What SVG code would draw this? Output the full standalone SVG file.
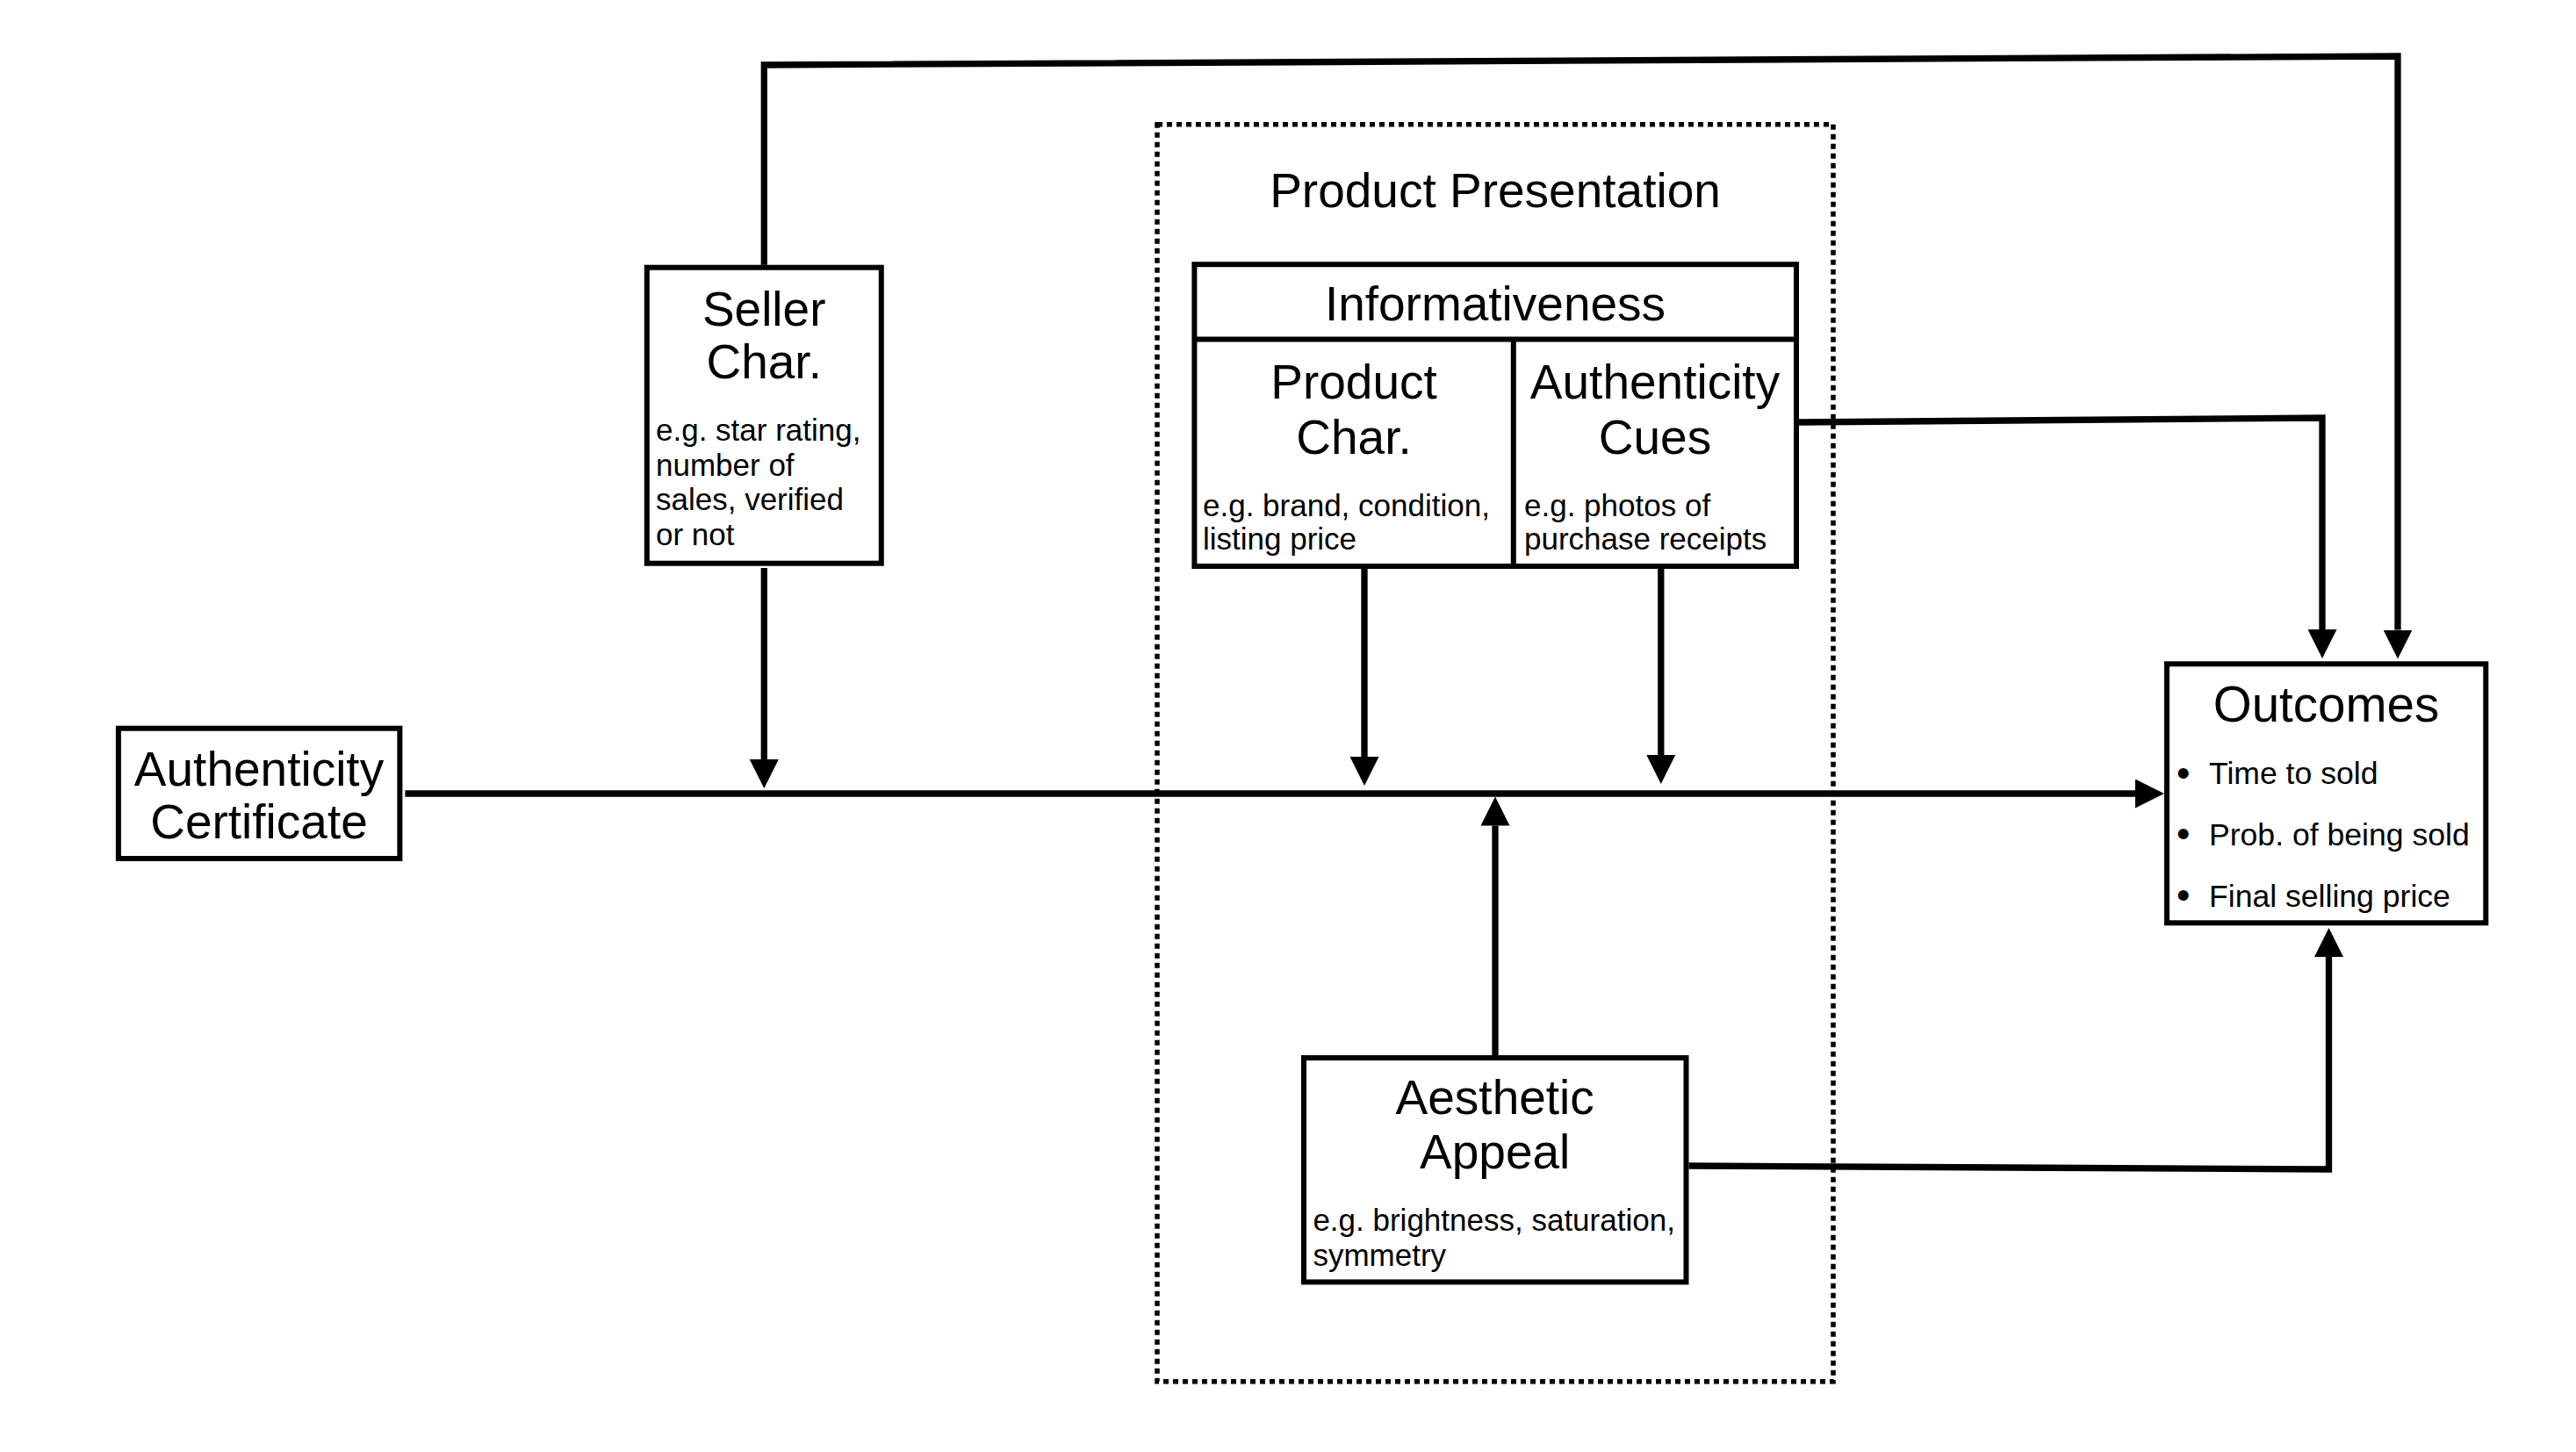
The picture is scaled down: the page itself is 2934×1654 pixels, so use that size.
<svg xmlns="http://www.w3.org/2000/svg" width="2934" height="1654" viewBox="0 0 2934 1654">
<style>
.box{fill:#fff;stroke:#000;stroke-width:6}
.div{fill:none;stroke:#000;stroke-width:6}
.con{fill:none;stroke:#000;stroke-width:7.3;stroke-linejoin:miter}
.dot{fill:none;stroke:#000;stroke-width:5.5;stroke-dasharray:6 5}
.big{font-family:"Liberation Sans",Arial,Helvetica,sans-serif;font-size:55px;fill:#000;text-anchor:middle}
.sm{font-family:"Liberation Sans",Arial,Helvetica,sans-serif;font-size:35px;fill:#000}
.out{font-family:"Liberation Sans",Arial,Helvetica,sans-serif;font-size:35.6px;fill:#000}
.bul{font-family:"Liberation Sans",Arial,Helvetica,sans-serif;font-size:44px;fill:#000;text-anchor:middle}
</style>
<defs>
<marker id="ah" markerUnits="userSpaceOnUse" markerWidth="33" markerHeight="33" refX="0" refY="16.5" orient="auto" viewBox="0 0 33 33">
<path d="M0,0 L33,16.5 L0,33 Z" fill="#000"/>
</marker>
</defs>
<rect x="0" y="0" width="2934" height="1654" fill="#fff"/>

<g id="product-presentation">
<rect class="dot" x="1318" y="141.7" width="770" height="1432"/>
<text class="big" x="1703" y="236">Product Presentation</text>
</g>

<g id="connectors">
<polyline class="con" points="870.3,301.7 870.3,74 2731,64 2731,717.6" marker-end="url(#ah)"/>
<line class="con" x1="870.3" y1="647" x2="870.3" y2="865" marker-end="url(#ah)"/>
<line class="con" x1="461.4" y1="904" x2="2432" y2="904" marker-end="url(#ah)"/>
<line class="con" x1="1554" y1="647" x2="1554" y2="862" marker-end="url(#ah)"/>
<line class="con" x1="1891.8" y1="647" x2="1891.8" y2="860" marker-end="url(#ah)"/>
<polyline class="con" points="2049,481 2645,476 2645,717" marker-end="url(#ah)"/>
<line class="con" x1="1703" y1="1202" x2="1703" y2="940.5" marker-end="url(#ah)"/>
<polyline class="con" points="1923.5,1328 2652.5,1332 2652.5,1090" marker-end="url(#ah)"/>
</g>

<g id="seller-char">
<rect class="box" x="736.8" y="304.7" width="267" height="337"/>
<text class="big" x="870.2" y="370.5">Seller</text>
<text class="big" x="870.2" y="431">Char.</text>
<text class="sm" x="747" y="502">e.g. star rating,</text>
<text class="sm" x="747" y="541.5">number of</text>
<text class="sm" x="747" y="581">sales, verified</text>
<text class="sm" x="747" y="620.5">or not</text>
</g>

<g id="authenticity-certificate">
<rect class="box" x="134.9" y="829.7" width="320.5" height="148.3"/>
<text class="big" x="295" y="895">Authenticity</text>
<text class="big" x="295" y="955">Certificate</text>
</g>

<g id="informativeness">
<rect class="box" x="1360.4" y="301.2" width="685.6" height="343.8"/>
<line class="div" x1="1360.4" y1="386.4" x2="2046" y2="386.4"/>
<line class="div" x1="1723.8" y1="386.4" x2="1723.8" y2="645"/>
<text class="big" x="1703" y="365">Informativeness</text>
</g>

<g id="product-char">
<text class="big" x="1542" y="454">Product</text>
<text class="big" x="1542" y="517">Char.</text>
<text class="sm" x="1370" y="588">e.g. brand, condition,</text>
<text class="sm" x="1370" y="626">listing price</text>
</g>

<g id="authenticity-cues">
<text class="big" x="1885" y="454">Authenticity</text>
<text class="big" x="1885" y="517">Cues</text>
<text class="sm" x="1736" y="588">e.g. photos of</text>
<text class="sm" x="1736" y="626">purchase receipts</text>
</g>

<g id="aesthetic-appeal">
<rect class="box" x="1485" y="1205" width="435.5" height="255.4"/>
<text class="big" x="1702.7" y="1269.3">Aesthetic</text>
<text class="big" x="1702.7" y="1330.6">Appeal</text>
<text class="sm" x="1495.4" y="1402">e.g. brightness, saturation,</text>
<text class="sm" x="1495.4" y="1442">symmetry</text>
</g>

<g id="outcomes">
<rect class="box" x="2468" y="756.3" width="363.3" height="295"/>
<text class="big" x="2649.5" y="821.7" style="font-size:56.5px">Outcomes</text>
<text class="bul" x="2486.7" y="895.5">•</text>
<text class="out" x="2516" y="893.3">Time to sold</text>
<text class="bul" x="2486.7" y="964.9">•</text>
<text class="out" x="2516" y="962.7">Prob. of being sold</text>
<text class="bul" x="2486.7" y="1034.9">•</text>
<text class="out" x="2516" y="1032.7">Final selling price</text>
</g>
</svg>
